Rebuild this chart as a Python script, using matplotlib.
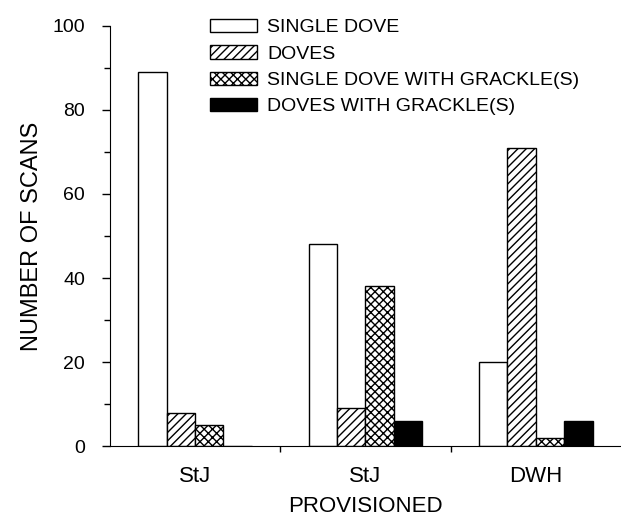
import matplotlib.pyplot as plt
import numpy as np

plt.rcParams['font.family'] = ['Liberation Sans', 'DejaVu Sans']
plt.rcParams['hatch.linewidth'] = 1.0

groups = ['StJ', 'StJ', 'DWH']
series = ['SINGLE DOVE', 'DOVES', 'SINGLE DOVE WITH GRACKLE(S)', 'DOVES WITH GRACKLE(S)']
single_dove = [89, 48, 20]
doves = [8, 9, 71]
single_grackle = [5, 38, 2]
doves_grackle = [0, 6, 6]

values = [single_dove, doves, single_grackle, doves_grackle]
hatches = ['', '////', 'xxxx', '']
faces = ['white', 'white', 'white', 'black']

fig = plt.figure(figsize=(6.21, 5.17), dpi=100)
ax = fig.add_axes([0.177, 0.137, 0.823, 0.813])

ind = np.arange(len(groups))
width = 1 / 6
handles = []
for i, (vals, h, fc) in enumerate(zip(values, hatches, faces)):
    b = ax.bar(ind + (i - 1.5) * width, vals, width, color=fc, edgecolor='black',
               hatch=h, linewidth=1.0)
    handles.append(b)

ax.set_xlim(-0.5, 2.5)
ax.set_ylim(0, 100)
ax.spines['top'].set_visible(False)
ax.spines['right'].set_visible(False)

ax.set_yticks(np.arange(0, 101, 20))
ax.set_yticks(np.arange(10, 100, 20), minor=True)
ax.tick_params(axis='y', which='major', direction='out', length=6, width=1, labelsize=14, pad=12)
ax.tick_params(axis='y', which='minor', direction='out', length=4, width=1)

ax.set_xticks(ind)
ax.set_xticklabels(groups)
ax.set_xticks([0.5, 1.5], minor=True)
ax.tick_params(axis='x', which='major', length=0, labelsize=16, pad=14)
ax.tick_params(axis='x', which='minor', direction='out', length=4, width=1)

ax.set_ylabel('NUMBER OF SCANS', fontsize=17, labelpad=7)
ax.set_xlabel('PROVISIONED', fontsize=16, labelpad=7)

fig.legend([h[0] for h in handles], series, loc='upper left',
           bbox_to_anchor=(0.316, 0.99), frameon=False, fontsize=14,
           handlelength=2.4, handleheight=0.7, handletextpad=0.55,
           labelspacing=0.45, borderaxespad=0.3)

fig.savefig('out.png', dpi=100)
